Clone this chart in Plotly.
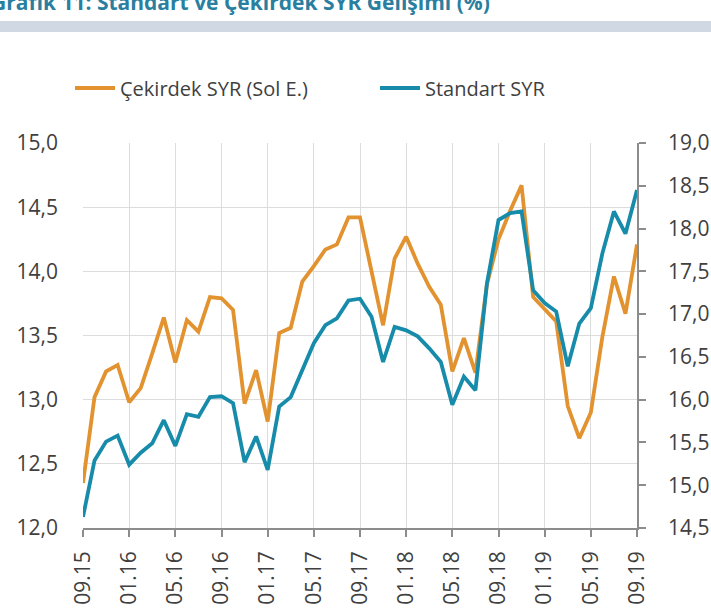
import plotly.graph_objects as go

months = ["09.15", "10.15", "11.15", "12.15", "01.16", "02.16", "03.16", "04.16",
          "05.16", "06.16", "07.16", "08.16", "09.16", "10.16", "11.16", "12.16",
          "01.17", "02.17", "03.17", "04.17", "05.17", "06.17", "07.17", "08.17",
          "09.17", "10.17", "11.17", "12.17", "01.18", "02.18", "03.18", "04.18",
          "05.18", "06.18", "07.18", "08.18", "09.18", "10.18", "11.18", "12.18",
          "01.19", "02.19", "03.19", "04.19", "05.19", "06.19", "07.19", "08.19",
          "09.19"]

tick_labels = ["09.15", "01.16", "05.16", "09.16", "01.17", "05.17", "09.17",
               "01.18", "05.18", "09.18", "01.19", "05.19", "09.19"]

cekirdek = [12.35, 13.02, 13.22, 13.27, 12.98, 13.09, 13.36, 13.64, 13.29, 13.62,
            13.53, 13.80, 13.79, 13.70, 12.97, 13.23, 12.83, 13.52, 13.56, 13.92,
            14.04, 14.17, 14.21, 14.42, 14.42, 14.01, 13.58, 14.10, 14.27, 14.06,
            13.88, 13.74, 13.22, 13.48, 13.21, 13.90, 14.25, 14.47, 14.67, 13.80,
            13.70, 13.61, 12.95, 12.70, 12.90, 13.49, 13.96, 13.67, 14.21]

standart = [14.63, 15.29, 15.51, 15.58, 15.24, 15.38, 15.49, 15.76, 15.46, 15.83,
            15.80, 16.03, 16.04, 15.96, 15.27, 15.57, 15.18, 15.92, 16.03, 16.35,
            16.66, 16.87, 16.95, 17.16, 17.18, 16.97, 16.44, 16.85, 16.81, 16.74,
            16.60, 16.44, 15.94, 16.27, 16.11, 17.36, 18.10, 18.18, 18.20, 17.28,
            17.13, 17.03, 16.39, 16.89, 17.07, 17.71, 18.20, 17.94, 18.45]

ORANGE = "#E2922E"
BLUE = "#178BAA"
TXT = "#404040"
GRID = "#dcdcdc"
AXIS = "#8c8c8c"
FONT = "Open Sans"

L, R, T, B = 83, 74, 143, 85
PW, PH = 711 - L - R, 613 - T - B

fig = go.Figure()
fig.add_trace(go.Scatter(x=months, y=cekirdek, name="Çekirdek SYR (Sol E.)",
                         mode="lines", line=dict(color=ORANGE, width=3.8), yaxis="y"))
fig.add_trace(go.Scatter(x=months, y=standart, name="Standart SYR",
                         mode="lines", line=dict(color=BLUE, width=3.8), yaxis="y2"))

# cropped title and band at the very top
fig.add_annotation(text="<b>Grafik 11: Standart ve Çekirdek SYR Gelişimi (%)</b>",
                   xref="paper", yref="paper", x=(492 - L) / PW, y=(613 - B - 2) / PH,
                   xanchor="right", yanchor="middle", showarrow=False,
                   font=dict(family=FONT, size=21, color="#2a7fa0"))
fig.add_shape(type="rect", xref="paper", yref="paper",
              x0=-L / PW, x1=(711 - L) / PW,
              y0=(613 - B - 32) / PH, y1=(613 - B - 21) / PH,
              fillcolor="#cfd8e3", line=dict(width=0), layer="below")

fig.update_layout(
    width=711, height=613,
    margin=dict(l=L, r=R, t=T, b=B, autoexpand=False),
    paper_bgcolor="white", plot_bgcolor="white",
    separators=",.",
    font=dict(family=FONT, color=TXT),
    showlegend=True,
    legend=dict(orientation="h", x=(70 - L) / PW, xanchor="left",
                y=(613 - B - 88) / PH, yanchor="middle",
                font=dict(family=FONT, size=20, color=TXT),
                itemwidth=40, entrywidth=250, entrywidthmode="pixels",
                traceorder="normal"),
    xaxis=dict(type="category", range=[0, len(months) - 1],
               tickmode="array", tickvals=tick_labels, ticktext=tick_labels,
               tickangle=-90, tickfont=dict(size=21, color=TXT),
               showgrid=True, gridcolor=GRID, gridwidth=1,
               showline=True, linecolor=AXIS, linewidth=1.5,
               ticks="outside", ticklen=7, tickcolor=AXIS, tickwidth=1.5,
               ticklabelstandoff=6, automargin=False),
    yaxis=dict(range=[12, 15], dtick=0.5, tick0=12, tickformat=".1f",
               tickfont=dict(size=21, color=TXT),
               showgrid=True, gridcolor=GRID, gridwidth=1,
               zeroline=False, showline=False, ticks="",
               ticklabelstandoff=24, automargin=False),
    yaxis2=dict(range=[14.5, 19], dtick=0.5, tick0=14.5, tickformat=".1f",
                overlaying="y", side="right",
                tickfont=dict(size=21, color=TXT),
                showgrid=False, zeroline=False,
                showline=True, linecolor=AXIS, linewidth=1.5,
                ticks="outside", ticklen=7, tickcolor=AXIS, tickwidth=1.5,
                ticklabelstandoff=18, automargin=False),
)

fig.write_html("out.html", config={"displayModeBar": False},
               post_script="document.body.style.margin='0px';document.body.style.overflow='hidden';")
